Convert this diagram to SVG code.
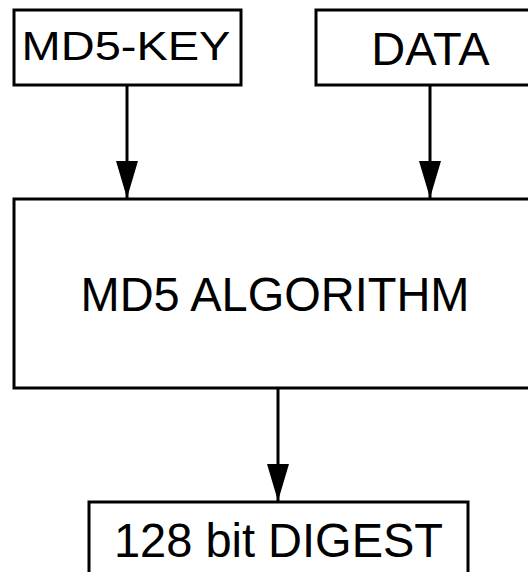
<svg xmlns="http://www.w3.org/2000/svg" width="528" height="572" viewBox="0 0 528 572">
  <style>
    .box { fill: #ffffff; stroke: #000000; stroke-width: 3; }
    .lbl { font-family: "Liberation Sans", Arial, sans-serif; font-size: 47px; fill: #000000; text-anchor: middle; }
    .wire { stroke: #000000; stroke-width: 3; fill: none; marker-end: url(#head); }
  </style>
  <defs>
    <marker id="head" markerUnits="userSpaceOnUse" markerWidth="38" markerHeight="24" viewBox="0 -12 38 24" refX="37" refY="0" orient="auto">
      <path d="M0,-11 L37,0 L0,11 z" fill="#000000"/>
    </marker>
  </defs>
  <rect width="528" height="572" fill="#ffffff"/>

  <g id="md5-key">
    <rect class="box" x="14" y="10" width="227" height="75"/>
    <text class="lbl" transform="translate(126,60) scale(1,0.88)">MD5-KEY</text>
  </g>

  <g id="data">
    <rect class="box" x="316" y="10" width="240" height="75"/>
    <text class="lbl" x="430.5" y="65">DATA</text>
  </g>

  <g id="algorithm">
    <rect class="box" x="14" y="199" width="540" height="189"/>
    <text class="lbl" transform="translate(275,311) scale(1,1.04)">MD5 ALGORITHM</text>
  </g>

  <g id="digest">
    <rect class="box" x="89" y="502" width="379" height="100"/>
    <text class="lbl" transform="translate(278.5,557) scale(1,1.04)">128 bit DIGEST</text>
  </g>

  <g id="connectors">
    <line class="wire" x1="127" y1="86" x2="127" y2="198"/>
    <line class="wire" x1="430" y1="86" x2="430" y2="198"/>
    <line class="wire" x1="278" y1="389" x2="278" y2="501"/>
  </g>
</svg>
